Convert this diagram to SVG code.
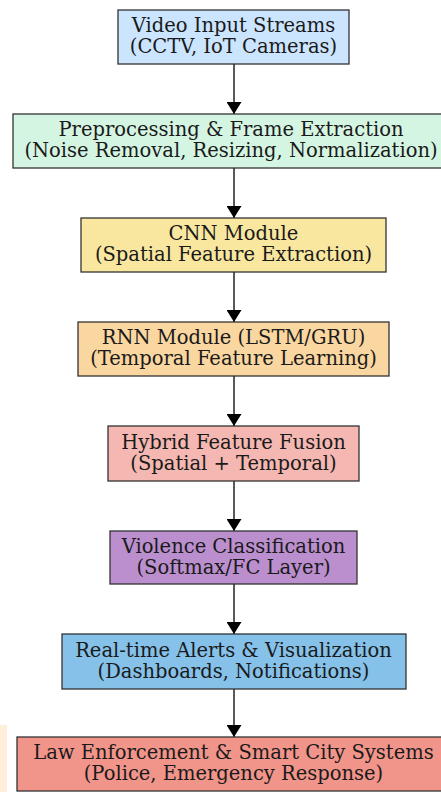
<svg xmlns="http://www.w3.org/2000/svg" width="441" height="792" viewBox="0 0 441 792">
<style>
.box{stroke:#333;stroke-width:1.3}
.t{font-family:"DejaVu Serif",serif;font-size:19.5px;fill:#1a1a1a;text-anchor:middle}
.c{stroke:#000;stroke-width:1.3;fill:none}
</style>
<defs>
<marker id="ah" viewBox="0 0 12 15" refX="12" refY="7.5" markerWidth="12" markerHeight="15" markerUnits="userSpaceOnUse" orient="auto">
<path d="M0,7.5 L0,0 L12,7.5 L0,15 Z" fill="#000"/>
</marker>
</defs>
<rect x="0" y="725" width="7" height="67" fill="#fdebd0" opacity="0.8"/>
<g id="connectors">
<line class="c" x1="234" y1="64" x2="234" y2="114" marker-end="url(#ah)"/>
<line class="c" x1="234" y1="168" x2="234" y2="218" marker-end="url(#ah)"/>
<line class="c" x1="234" y1="272" x2="234" y2="322" marker-end="url(#ah)"/>
<line class="c" x1="234" y1="376" x2="234" y2="426" marker-end="url(#ah)"/>
<line class="c" x1="234" y1="481" x2="234" y2="531" marker-end="url(#ah)"/>
<line class="c" x1="234" y1="584" x2="234" y2="634" marker-end="url(#ah)"/>
<line class="c" x1="234" y1="689" x2="234" y2="737" marker-end="url(#ah)"/>
</g>
<g id="n1"><rect class="box" x="118" y="10" width="231" height="54" fill="#cce5ff"/>
<text class="t" x="233.5" y="32">Video Input Streams</text><text class="t" x="233.5" y="53">(CCTV, IoT Cameras)</text></g>
<g id="n2"><rect class="box" x="13" y="114" width="440" height="54" fill="#d5f5e3"/>
<text class="t" x="231" y="136">Preprocessing &amp; Frame Extraction</text><text class="t" x="231" y="157">(Noise Removal, Resizing, Normalization)</text></g>
<g id="n3"><rect class="box" x="81" y="218" width="305" height="54" fill="#f9e79f"/>
<text class="t" x="233.5" y="240">CNN Module</text><text class="t" x="233.5" y="261">(Spatial Feature Extraction)</text></g>
<g id="n4"><rect class="box" x="78" y="322" width="311" height="54" fill="#fad7a0"/>
<text class="t" x="233.5" y="344">RNN Module (LSTM/GRU)</text><text class="t" x="233.5" y="365">(Temporal Feature Learning)</text></g>
<g id="n5"><rect class="box" x="108" y="426" width="251" height="55" fill="#f5b7b1"/>
<text class="t" x="233.5" y="448.5">Hybrid Feature Fusion</text><text class="t" x="233.5" y="469.5">(Spatial + Temporal)</text></g>
<g id="n6"><rect class="box" x="110" y="531" width="247" height="53" fill="#bb8fce"/>
<text class="t" x="233.5" y="552.5">Violence Classification</text><text class="t" x="233.5" y="573.5">(Softmax/FC Layer)</text></g>
<g id="n7"><rect class="box" x="62" y="634" width="344" height="55" fill="#85c1e9"/>
<text class="t" x="233.5" y="656.5">Real-time Alerts &amp; Visualization</text><text class="t" x="233.5" y="677.5">(Dashboards, Notifications)</text></g>
<g id="n8"><rect class="box" x="17" y="737" width="440" height="54" fill="#f1948a"/>
<text class="t" x="233.5" y="759">Law Enforcement &amp; Smart City Systems</text><text class="t" x="233.5" y="780">(Police, Emergency Response)</text></g>
</svg>
